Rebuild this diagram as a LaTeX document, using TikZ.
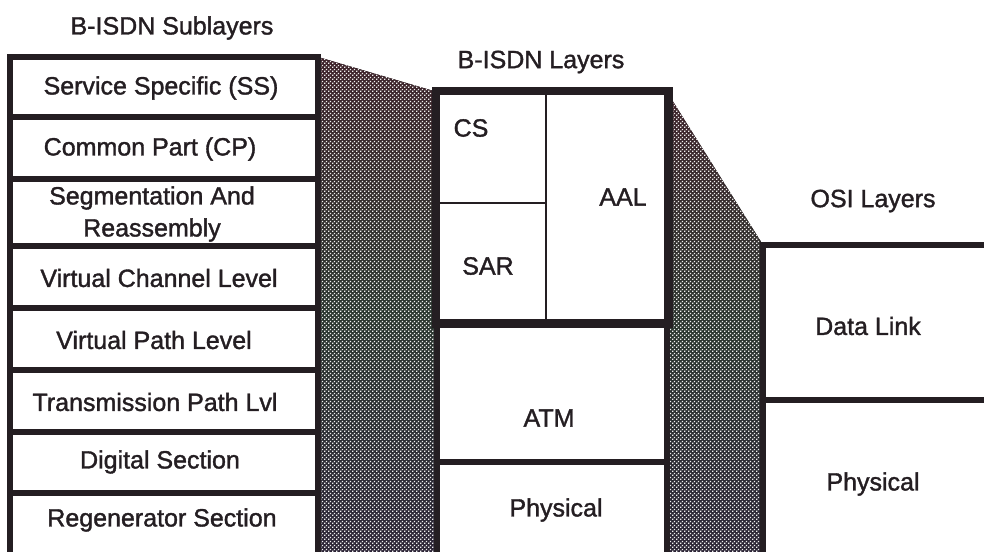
\documentclass[tikz,border=0pt]{standalone}
\usepackage{fontspec}
\setmainfont{Liberation Sans}
\newfontfamily\heavyfont{Liberation Sans}[FakeBold=1.4]
\usetikzlibrary{patterns}
\definecolor{ink}{RGB}{36,30,34}
\definecolor{bandA}{RGB}{45,36,56}
\definecolor{bandB}{RGB}{42,54,46}
\definecolor{bandC}{RGB}{62,34,42}
\pgfdeclarepatternformonly{checkdots}{\pgfqpoint{0pt}{0pt}}{\pgfqpoint{4pt}{4pt}}{\pgfqpoint{4pt}{4pt}}{%
  \pgfpathrectangle{\pgfqpoint{0.3pt}{0.3pt}}{\pgfqpoint{1.5pt}{1.5pt}}%
  \pgfpathrectangle{\pgfqpoint{2.3pt}{2.3pt}}{\pgfqpoint{1.5pt}{1.5pt}}%
  \pgfusepath{fill}}
\begin{document}
\begin{tikzpicture}[x=1pt,y=-1pt,
  box/.style={draw=ink, line width=5.5pt, fill=white, inner sep=0pt},
  thinbox/.style={draw=ink, line width=2.2pt, inner sep=0pt},
  lbl/.style={text=ink, font=\heavyfont\fontsize{25}{32}\selectfont, inner sep=0pt, align=center},
  bandfill/.style={top color=bandC, bottom color=bandA, middle color=bandB},
  banddots/.style={pattern=checkdots, pattern color=white!88!gray}]
\useasboundingbox (0,0) rectangle (984,551);
\clip (0,0) rectangle (984,551);
% hatched bands
\fill[bandfill] (318,57) -- (437,92) -- (437,570) -- (318,570) -- cycle;
\fill[banddots] (318,57) -- (437,92) -- (437,570) -- (318,570) -- cycle;
\fill[bandfill] (667,92) -- (763,245) -- (763,570) -- (667,570) -- cycle;
\fill[banddots] (667,92) -- (763,245) -- (763,570) -- (667,570) -- cycle;
% titles
\node[lbl] (t1) at (172,28) {B-ISDN Sublayers};
\node[lbl] (t2) at (541,62) {B-ISDN Layers};
\node[lbl] (t3) at (873,201) {OSI Layers};
% left column
\node[box, minimum width=308pt, minimum height=60pt] (ss) at (164,87) {};
\node[box, minimum width=308pt, minimum height=62pt] (cp) at (164,148) {};
\node[box, minimum width=308pt, minimum height=67pt] (sar1) at (164,212.5) {};
\node[box, minimum width=308pt, minimum height=62pt] (vc) at (164,277) {};
\node[box, minimum width=308pt, minimum height=62pt] (vp) at (164,339) {};
\node[box, minimum width=308pt, minimum height=62pt] (tp) at (164,401) {};
\node[box, minimum width=308pt, minimum height=61pt] (ds) at (164,462.5) {};
\node[box, minimum width=308pt, minimum height=70pt] (rs) at (164,528) {};
\node[lbl] (lss) at (161,88) {Service Specific (SS)};
\node[lbl] (lcp) at (150,149) {Common Part (CP)};
\node[lbl] (lsar) at (152,214) {Segmentation And\\Reassembly};
\node[lbl] (lvc) at (159,278) {Virtual Channel Level};
\node[lbl] (lvp) at (154,340) {Virtual Path Level};
\node[lbl] (ltp) at (155,402) {Transmission Path Lvl};
\node[lbl] (lds) at (160,462) {Digital Section};
\node[lbl] (lrs) at (162,520) {Regenerator Section};
% middle column
\node[box, minimum width=230pt, minimum height=230pt] (aalbox) at (552,207) {};
\node[box, minimum width=230pt, minimum height=140pt] (atm) at (552,392) {};
\node[box, minimum width=230pt, minimum height=110pt] (phy) at (552,517) {};
\node[thinbox, minimum width=109pt, minimum height=111pt] (cs) at (491.5,147.5) {};
\node[thinbox, minimum width=109pt, minimum height=119pt] (sar) at (491.5,262.5) {};
\draw[ink, line width=5.5pt] (aalbox.north west) rectangle (aalbox.south east);
\node[lbl] (lcs) at (471,128) {CS};
\node[lbl] (lsar2) at (488,266) {SAR};
\node[lbl] (laal) at (623,197) {AAL};
\node[lbl] (latm) at (549,418) {ATM};
\node[lbl] (lphy) at (556,510) {Physical};
% OSI column
\node[box, minimum width=240pt, minimum height=155pt] (dl) at (883,322.5) {};
\node[box, minimum width=240pt, minimum height=170pt] (ophy) at (883,485) {};
\node[lbl] (ldl) at (868,326) {Data Link};
\node[lbl] (lophy) at (873,484) {Physical};
\end{tikzpicture}
\end{document}
